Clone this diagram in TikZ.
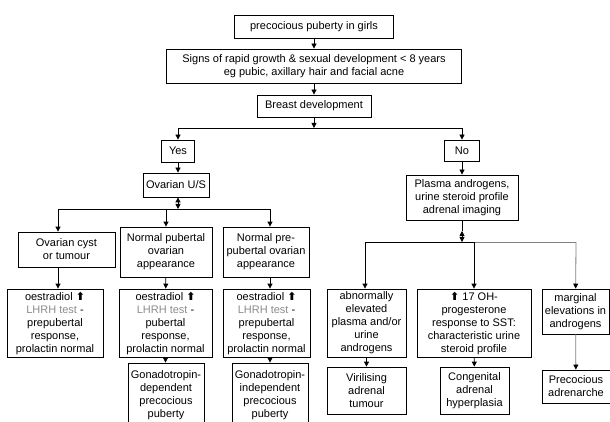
\documentclass[tikz,border=0pt]{standalone}
\usepackage{fontspec}
\setmainfont{Liberation Sans}
\newfontfamily\symfont{DejaVu Sans}
\usepackage{tikz}
\usetikzlibrary{arrows.meta}
\usepackage{xcolor}
\definecolor{lhrh}{RGB}{140,140,140}
\definecolor{faint}{RGB}{128,128,128}
\newcommand{\rise}{{\symfont\bfseries\fontsize{11}{13}\selectfont ⬆}}
\newcommand{\lhrhtest}{\textcolor{lhrh}{LHRH test} -}

\begin{document}
\begin{tikzpicture}[x=1pt, y=-1pt, line width=0.8pt,
  >={Triangle[length=5pt,width=5pt]},
  box/.style={draw, inner sep=1pt, align=center,
    font=\fontsize{11}{13}\selectfont},
  greyline/.style={draw=faint, -{Triangle[length=5pt,width=5pt,color=black]}}]
\useasboundingbox (0,0) rectangle (610,422);
\clip (0,0) rectangle (610,422);
\node[box, minimum width=159, minimum height=23] (top) at (314,26.5) {precocious puberty in girls};
\node[box, minimum width=295, minimum height=34] (signs) at (314,66) {Signs of rapid growth \& sexual development < 8 years\\eg pubic, axillary hair and facial acne};
\node[box, minimum width=114, minimum height=22] (breast) at (314,106) {Breast development};
\node[box, minimum width=33, minimum height=22] (yes) at (178,151) {Yes};
\node[box, minimum width=35, minimum height=21] (no) at (462,150.5) {No};
\node[box, minimum width=66, minimum height=24] (ovus) at (176,185) {Ovarian U/S};
\node[box, minimum width=112, minimum height=45] (plasma) at (462,197.5) {Plasma androgens,\\urine steroid profile\\adrenal imaging};
\node[box, minimum width=97, minimum height=35] (cyst) at (66.5,249.5) {Ovarian cyst\\or tumour};
\node[box, minimum width=92, minimum height=50] (pub) at (166,252) {Normal pubertal\\ovarian\\appearance};
\node[box, minimum width=86, minimum height=50] (prepub) at (266,252) {Normal pre-\\pubertal ovarian\\appearance};
\node[box, minimum width=96, minimum height=68] (oecyst) at (55,323) {oestradiol \rise\\\lhrhtest\\prepubertal\\response,\\prolactin normal};
\node[box, minimum width=93, minimum height=68] (oepub) at (165.5,323) {oestradiol \rise\\\lhrhtest\\pubertal\\response,\\prolactin normal};
\node[box, minimum width=87, minimum height=68] (oepre) at (266.5,323) {oestradiol \rise\\\lhrhtest\\prepubertal\\response,\\prolactin normal};
\node[box, minimum width=76, minimum height=64] (gdep) at (166,395) {Gonadotropin-\\dependent\\precocious\\puberty};
\node[box, minimum width=76, minimum height=64] (gindep) at (270,395) {Gonadotropin-\\independent\\precocious\\puberty};
\node[box, minimum width=79, minimum height=68] (abn) at (366.5,323) {abnormally\\elevated\\plasma and/or\\urine\\androgens};
\node[box, minimum width=114, minimum height=68] (ohp) at (474,323) {\rise\ 17 OH-\\progesterone\\response to SST:\\characteristic urine\\steroid profile};
\node[box, minimum width=67, minimum height=45] (marg) at (575.5,311.5) {marginal\\elevations in\\androgens};
\node[box, minimum width=79, minimum height=47] (viril) at (366.5,390.5) {Virilising\\adrenal\\tumour};
\node[box, minimum width=69, minimum height=47] (cah) at (474.5,390.5) {Congenital\\adrenal\\hyperplasia};
\node[box, minimum width=68, minimum height=33] (adren) at (576,386.5) {Precocious\\adrenarche};
\coordinate (bj) at (314,128);
\coordinate (oj) at (178,209);
\coordinate (ol) at (58,209);
\coordinate (or) at (270,209);
\coordinate (pm) at (462,231);
\coordinate (rl) at (365,242);
\coordinate (rm) at (474,242);
\coordinate (rr) at (576,242);
\draw[->] (top) -- (signs);
\draw[->] (signs) -- (breast);
\draw[->] (breast) -- (bj);
\draw[->] (bj) -| (yes);
\draw[->] (bj) -| (no);
\draw[->] (yes) -- (yes |- ovus.north);
\draw[->] (no) -- (plasma);
\draw[<->] (oj |- ovus.south) -- (oj);
\draw (ol) -- (or);
\draw[->] (ol) -- (ol |- cyst.north);
\draw[->] (oj -| pub) -- (pub);
\draw[->] (or) -- (or |- prepub.north);
\draw[->] (ol |- cyst.south) -- (ol |- oecyst.north);
\draw[->] (pub) -- (oepub);
\draw[->] (or |- prepub.south) -- (or |- oepre.north);
\draw[->] (oepub) -- (oepub |- gdep.north);
\draw[->] (or |- oepre.south) -- (or |- gindep.north);
\draw (plasma) -- (pm);
\draw[<->] (pm) -- (pm |- rl);
\draw (rl) -- (rm);
\draw[faint] (rm) -- (rr);
\draw[->] (rl) -- (rl |- abn.north);
\draw[->] (rm) -- (ohp);
\draw[greyline] (rr) -- (marg);
\draw[->] (abn) -- (viril);
\draw[->] (ohp) -- (cah);
\draw[greyline] (marg) -- (adren);
\end{tikzpicture}
\end{document}
